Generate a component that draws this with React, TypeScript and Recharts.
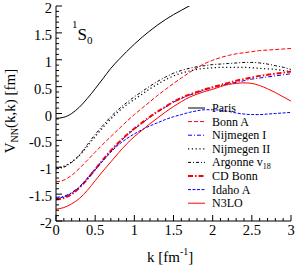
import React from 'react';
import { LineChart, Line, XAxis, YAxis, Legend, Customized } from 'recharts';

const kValues = [0, 0.1, 0.2, 0.3, 0.4, 0.5, 0.6, 0.7, 0.8, 0.9, 1.0, 1.1, 1.2, 1.3, 1.4, 1.5, 1.6, 1.7, 1.8, 1.9, 2.0, 2.1, 2.2, 2.3, 2.4, 2.5, 2.6, 2.7, 2.8, 2.9, 3.0];

const paris = [-0.09, -0.07, 0.0, 0.12, 0.28, 0.46, 0.65, 0.84, 1.0, 1.15, 1.29, 1.42, 1.54, 1.65, 1.75, 1.84, 1.92, 2.0, 2.07, null, null, null, null, null, null, null, null, null, null, null, null];
const bonnA = [-1.27, -1.24, -1.15, -1.02, -0.87, -0.72, -0.57, -0.43, -0.29, -0.15, -0.02, 0.1, 0.22, 0.34, 0.45, 0.56, 0.66, 0.76, 0.85, 0.93, 0.99, 1.04, 1.08, 1.11, 1.13, 1.15, 1.17, 1.18, 1.19, 1.2, 1.21];
const nijmegenI = [-1.56, -1.54, -1.47, -1.36, -1.2, -1.03, -0.86, -0.7, -0.55, -0.41, -0.29, -0.18, -0.07, 0.03, 0.12, 0.21, 0.28, 0.34, 0.39, 0.44, 0.48, 0.52, 0.55, 0.58, 0.61, 0.64, 0.66, 0.68, 0.7, 0.72, 0.74];
const nijmegenII = [-1.01, -0.98, -0.9, -0.78, -0.61, -0.43, -0.26, -0.1, 0.04, 0.16, 0.26, 0.36, 0.46, 0.55, 0.63, 0.7, 0.75, 0.79, 0.82, 0.84, 0.85, 0.86, 0.86, 0.86, 0.86, 0.85, 0.84, 0.83, 0.82, 0.8, 0.78];
const argonne = [-1.03, -1.0, -0.91, -0.77, -0.58, -0.39, -0.22, -0.06, 0.08, 0.2, 0.31, 0.41, 0.51, 0.6, 0.68, 0.75, 0.8, 0.84, 0.87, 0.89, 0.91, 0.92, 0.93, 0.94, 0.95, 0.95, 0.94, 0.92, 0.89, 0.86, 0.82];
const cdBonn = [-1.6, -1.57, -1.5, -1.38, -1.22, -1.04, -0.86, -0.69, -0.54, -0.4, -0.28, -0.17, -0.06, 0.04, 0.13, 0.22, 0.29, 0.35, 0.4, 0.45, 0.49, 0.53, 0.57, 0.61, 0.64, 0.67, 0.7, 0.72, 0.74, 0.76, 0.78];
const idahoA = [-1.58, -1.55, -1.48, -1.37, -1.22, -1.05, -0.88, -0.72, -0.58, -0.47, -0.38, -0.3, -0.23, -0.17, -0.11, -0.06, -0.02, 0.02, 0.05, 0.07, 0.07, 0.06, 0.04, 0.01, -0.01, -0.02, -0.02, -0.01, 0.0, 0.01, 0.02];
const n3lo = [-1.78, -1.75, -1.68, -1.58, -1.43, -1.25, -1.07, -0.9, -0.73, -0.57, -0.43, -0.31, -0.19, -0.08, 0.03, 0.13, 0.22, 0.3, 0.36, 0.41, 0.45, 0.5, 0.54, 0.56, 0.57, 0.56, 0.52, 0.46, 0.39, 0.31, 0.23];

const xTicks = [0, 0.1, 0.2, 0.3, 0.4, 0.5, 0.6, 0.7, 0.8, 0.9, 1, 1.1, 1.2, 1.3, 1.4, 1.5, 1.6, 1.7, 1.8, 1.9, 2, 2.1, 2.2, 2.3, 2.4, 2.5, 2.6, 2.7, 2.8, 2.9, 3];
const yTicks = [-2, -1.9, -1.8, -1.7, -1.6, -1.5, -1.4, -1.3, -1.2, -1.1, -1, -0.9, -0.8, -0.7, -0.6, -0.5, -0.4, -0.3, -0.2, -0.1, 0, 0.1, 0.2, 0.3, 0.4, 0.5, 0.6, 0.7, 0.8, 0.9, 1, 1.1, 1.2, 1.3, 1.4, 1.5, 1.6, 1.7, 1.8, 1.9, 2];

const data = kValues.map((k, i) => ({
  k,
  paris: paris[i],
  bonnA: bonnA[i],
  nijmegenI: nijmegenI[i],
  nijmegenII: nijmegenII[i],
  argonne: argonne[i],
  cdBonn: cdBonn[i],
  idahoA: idahoA[i],
  n3lo: n3lo[i],
}));

const series = [
  { key: 'paris', name: 'Paris', color: '#000000', dash: undefined as string | undefined, width: 1 },
  { key: 'bonnA', name: 'Bonn A', color: '#ff0000', dash: '4 2', width: 1 },
  { key: 'nijmegenI', name: 'Nijmegen I', color: '#0000ff', dash: '4 2 1 2', width: 1 },
  { key: 'nijmegenII', name: 'Nijmegen II', color: '#000000', dash: '1.2 2.6', width: 1.2 },
  { key: 'argonne', name: 'Argonne v18', color: '#000000', dash: '3 2 1 2', width: 1 },
  { key: 'cdBonn', name: 'CD Bonn', color: '#ff0000', dash: '5 2 1.5 2', width: 2 },
  { key: 'idahoA', name: 'Idaho A', color: '#0000ff', dash: '3 1.5', width: 1 },
  { key: 'n3lo', name: 'N3LO', color: '#ff0000', dash: undefined as string | undefined, width: 1 },
];

const FONT = '"Liberation Serif", "Times New Roman", serif';
const TICK_FONT = 14.5;

const isMajor = (v: number) => Math.abs(v * 2 - Math.round(v * 2)) < 1e-6;
const fmt = (v: number) => String(Math.round(v * 10) / 10);

const BottomTick = (props: any) => {
  const { x, y, payload } = props;
  const v = payload.value;
  const major = isMajor(v);
  return (
    <g>
      <line x1={x} x2={x} y1={y} y2={y - (major ? 6 : 3)} stroke="#000" strokeWidth={1} />
      {major && (
        <text x={x} y={y + 14} textAnchor="middle" fontFamily={FONT} fontSize={TICK_FONT} fill="#000">
          {fmt(v)}
        </text>
      )}
    </g>
  );
};

const TopTick = (props: any) => {
  const { x, y, payload } = props;
  const major = isMajor(payload.value);
  return <line x1={x} x2={x} y1={y} y2={y + (major ? 6 : 3)} stroke="#000" strokeWidth={1} />;
};

const LeftTick = (props: any) => {
  const { x, y, payload } = props;
  const v = payload.value;
  const major = isMajor(v);
  return (
    <g>
      <line x1={x} x2={x + (major ? 6 : 3)} y1={y} y2={y} stroke="#000" strokeWidth={1} />
      {major && (
        <text x={x - 4} y={y + 7} textAnchor="end" fontFamily={FONT} fontSize={TICK_FONT} fill="#000">
          {fmt(v)}
        </text>
      )}
    </g>
  );
};

const RightTick = (props: any) => {
  const { x, y, payload } = props;
  const major = isMajor(payload.value);
  return <line x1={x} x2={x - (major ? 6 : 3)} y1={y} y2={y} stroke="#000" strokeWidth={1} />;
};

const LegendContent = () => {
  const rowH = 13.6;
  return (
    <svg width={105} height={115} style={{ overflow: 'visible', display: 'block' }}>
      {series.map((s, i) => {
        const base = 16 + i * rowH;
        const ly = base - 4;
        return (
          <g key={s.key}>
            <line x1={2} x2={19} y1={ly} y2={ly} stroke={s.color} strokeWidth={s.width} strokeDasharray={s.dash} />
            {s.key === 'argonne' ? (
              <text x={26} y={base} fontFamily={FONT} fontSize={12} fill="#000">
                Argonne v<tspan fontSize={8} dy={3}>18</tspan>
              </text>
            ) : (
              <text x={26} y={base} fontFamily={FONT} fontSize={12} fill="#000">
                {s.name}
              </text>
            )}
          </g>
        );
      })}
    </svg>
  );
};

const Labels = () => (
  <g fontFamily={FONT} fill="#000">
    <text x={72} y={40} fontSize={17}>
      <tspan fontSize={11} dy={-12}>1</tspan>
      <tspan dy={12}>S</tspan>
      <tspan fontSize={11} dy={4}>0</tspan>
    </text>
    <text transform="rotate(-90, 15, 111)" x={15} y={111} textAnchor="middle" fontSize={15}>
      V<tspan fontSize={10} dy={3}>NN</tspan>
      <tspan dy={-3}>(k,k) [fm]</tspan>
    </text>
    <text x={147} y={262} fontSize={15}>
      k [fm<tspan fontSize={10} dy={-7}>-1</tspan>
      <tspan dy={7}>]</tspan>
    </text>
  </g>
);

export default function App() {
  return (
    <div style={{ position: 'absolute', left: 0, top: 0 }}>
      <LineChart width={295} height={267} data={data} margin={{ top: 6, right: 4, left: 0, bottom: 0 }}>
        <XAxis
          dataKey="k"
          type="number"
          domain={[0, 3]}
          allowDataOverflow
          ticks={xTicks}
          interval={0}
          tickSize={0}
          tickMargin={0}
          tickLine={false}
          axisLine={{ stroke: '#000' }}
          tick={<BottomTick />}
          height={46}
        />
        <XAxis
          xAxisId="top"
          orientation="top"
          dataKey="k"
          type="number"
          domain={[0, 3]}
          allowDataOverflow
          ticks={xTicks}
          interval={0}
          tickSize={0}
          tickMargin={0}
          tickLine={false}
          axisLine={{ stroke: '#000' }}
          tick={<TopTick />}
          height={0}
        />
        <YAxis
          type="number"
          domain={[-2, 2]}
          allowDataOverflow
          ticks={yTicks}
          interval={0}
          tickSize={0}
          tickMargin={0}
          tickLine={false}
          axisLine={{ stroke: '#000' }}
          tick={<LeftTick />}
          width={56}
        />
        <YAxis
          yAxisId="right"
          orientation="right"
          type="number"
          domain={[-2, 2]}
          allowDataOverflow
          ticks={yTicks}
          interval={0}
          tickSize={0}
          tickMargin={0}
          tickLine={false}
          axisLine={{ stroke: '#000' }}
          tick={<RightTick />}
          width={0}
        />
        <Legend
          layout="vertical"
          align="center"
          verticalAlign="middle"
          content={<LegendContent />}
          wrapperStyle={{ position: 'absolute', left: 186, top: 96, width: 105, height: 115 }}
        />
        {series.map((s) => (
          <Line
            key={s.key}
            dataKey={s.key}
            name={s.name}
            type="monotone"
            stroke={s.color}
            strokeWidth={s.width}
            strokeDasharray={s.dash}
            dot={false}
            activeDot={false}
            isAnimationActive={false}
          />
        ))}
        <Customized component={Labels} />
      </LineChart>
    </div>
  );
}
